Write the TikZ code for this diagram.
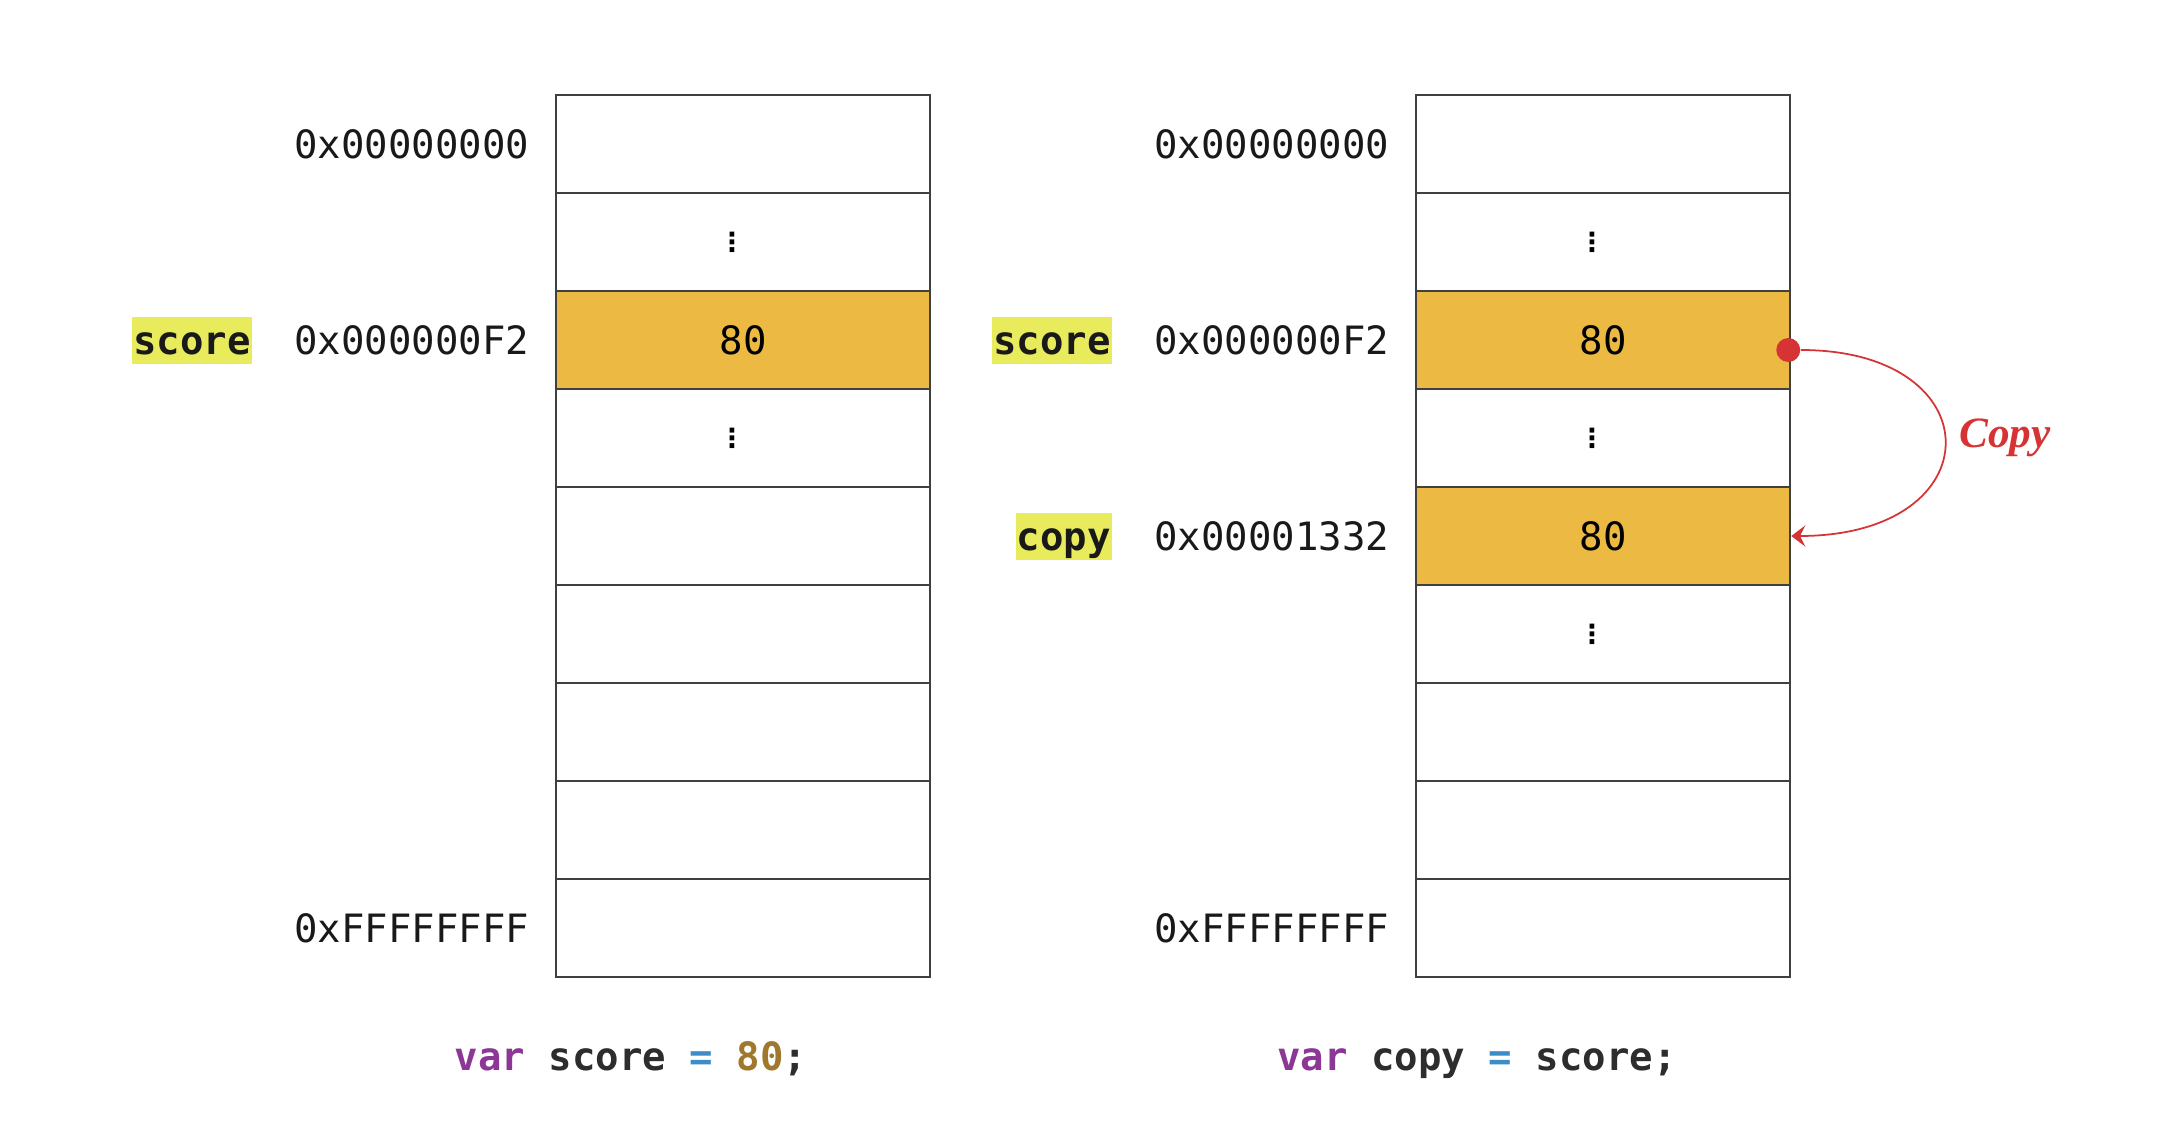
\documentclass[tikz,border=0pt]{standalone}
\usepackage{fontspec}
\setmonofont{DejaVu Sans Mono}
\newfontfamily\symfont{DejaVu Sans}
\newfontfamily\notefont{Liberation Serif}
\definecolor{cellfill}{RGB}{236,186,66}
\definecolor{varmark}{RGB}{232,236,92}
\definecolor{copyred}{RGB}{214,52,52}
\definecolor{kwpurple}{RGB}{140,55,150}
\definecolor{opblue}{RGB}{60,140,200}
\definecolor{numbrown}{RGB}{160,120,45}
\definecolor{codegray}{RGB}{45,45,45}
\usetikzlibrary{arrows.meta, positioning}
\newcommand\memfont{\ttfamily\fontsize{11.1}{13}\selectfont}

\begin{document}
\begin{tikzpicture}[
  cell/.style={rectangle, draw=black!75, line width=0.7pt, inner sep=0pt,
               minimum width=3.74cm, minimum height=0.98cm, font=\memfont},
  filled/.style={cell, fill=cellfill},
  vdot/.style={font=\symfont\bfseries\fontsize{7.5}{9}\selectfont,
               inner sep=0pt, xshift=-0.11cm},
  addr/.style={font=\memfont, text=black!90, inner sep=0pt,
               text height=3.8mm, text depth=0.9mm},
  varbox/.style={addr, font=\memfont\bfseries, fill=varmark, inner xsep=0.01cm},
  code/.style={addr, font=\memfont\bfseries, text=codegray},
  copyarrow/.style={-{Stealth[length=4pt, width=6pt, inset=1.5pt]},
                    draw=copyred, line width=0.5pt},
  dot/.style={circle, fill=copyred, inner sep=0pt, minimum size=0.24cm}
]
  \path[use as bounding box, fill=white] (0,0) rectangle (21.68,-11.26);

  % Memory cells
  \foreach \i in {0,...,8} {
    \node[cell] (lc\i) at (7.43,-1.44-0.98*\i) {};
    \node[cell] (rc\i) at (16.03,-1.44-0.98*\i) {};
  }

  % Left memory: var score = 80
  \node[filled] (lval) at (lc2) {80};
  \node[vdot] (ldots1) at (lc1) {⋮};
  \node[vdot] (ldots3) at (lc3) {⋮};

  \node[addr, left=0.25cm of lc0] (laddr0) {0x00000000};
  \node[addr, left=0.25cm of lc2] (laddr2) {0x000000F2};
  \node[addr, left=0.25cm of lc8] (laddr8) {0xFFFFFFFF};
  \node[varbox, left=0.41cm of laddr2] (lscore) {score};

  % Right memory: var copy = score
  \node[filled] (rval) at (rc2) {80};
  \node[filled] (cval) at (rc4) {80};
  \node[vdot] (rdots1) at (rc1) {⋮};
  \node[vdot] (rdots3) at (rc3) {⋮};
  \node[vdot] (rdots5) at (rc5) {⋮};

  \node[addr, left=0.25cm of rc0] (raddr0) {0x00000000};
  \node[addr, left=0.25cm of rc2] (raddr2) {0x000000F2};
  \node[addr, left=0.25cm of rc4] (raddr4) {0x00001332};
  \node[addr, left=0.25cm of rc8] (raddr8) {0xFFFFFFFF};
  \node[varbox, left=0.41cm of raddr2] (rscore) {score};
  \node[varbox, left=0.41cm of raddr4] (rcopy) {copy};

  % Copy arrow
  \node[dot] (src) at ([xshift=-0.03cm, yshift=-0.1cm]rval.east) {};
  \draw[copyarrow] (src) .. controls +(2.06,0) and +(2.03,0) .. (cval.east);
  \node[font=\notefont\bfseries\itshape\fontsize{12.3}{14}\selectfont,
        text=copyred] (copynote) at (20.05,-4.38) {Copy};

  % Code lines
  \node[code] (lcode) at (6.31,-10.56)
    {\textcolor{kwpurple}{var} score \textcolor{opblue}{=} \textcolor{numbrown}{80};};
  \node[code] (rcode) at (14.77,-10.56)
    {\textcolor{kwpurple}{var} copy \textcolor{opblue}{=} score;};
\end{tikzpicture}
\end{document}
